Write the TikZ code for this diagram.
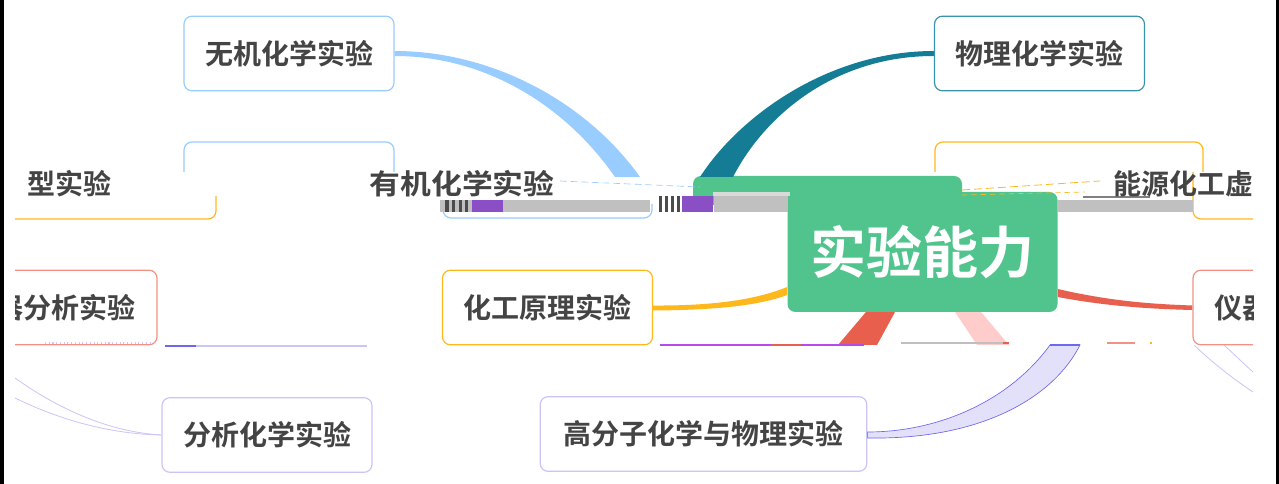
\documentclass[tikz,border=0pt]{standalone}
\usepackage{fontspec}
\newfontfamily\cjk{Noto Sans CJK SC}[BoldFont={Noto Sans CJK SC Bold}]
\usetikzlibrary{calc}
\pgfdeclarelayer{bg}
\pgfsetlayers{bg,main}
\definecolor{txt}{HTML}{444444}
\definecolor{cblue}{HTML}{99CCFF}
\definecolor{cteal}{HTML}{147D95}
\definecolor{ctealb}{HTML}{3A93AE}
\definecolor{cyel}{HTML}{FFB81C}
\definecolor{cred}{HTML}{E85F4E}
\definecolor{cpink}{HTML}{FFCCCC}
\definecolor{clav}{HTML}{C9C5F7}
\definecolor{clavf}{HTML}{E3E0FA}
\definecolor{clavline}{HTML}{6E68F0}
\definecolor{cgreen}{HTML}{50C48C}
\definecolor{cgray}{HTML}{C0C0C0}
\definecolor{cpur}{HTML}{8A4FC4}
\definecolor{cmag}{HTML}{B44CEB}
\definecolor{csal}{HTML}{F29184}
\tikzset{
  topic/.style={draw=#1, line width=0.9pt, rounded corners=6pt, fill=white,
    minimum width=157.5pt, minimum height=56pt, inner sep=0pt,
    font=\cjk\bfseries\fontsize{21}{21}\selectfont, text=txt},
  glitchtxt/.style={inner sep=0pt, font=\cjk\bfseries\fontsize{21}{21}\selectfont, text=txt},
  edgebox/.style={draw=#1, line width=0.9pt, rounded corners=6pt},
  stripe/.style={fill=black!70},
}
\begin{document}
\begin{tikzpicture}[x=0.75pt,y=-0.75pt]
\useasboundingbox (0,0) rectangle (1279,484);
\begin{pgfonlayer}{bg}
\fill[white] (0,0) rectangle (1279,484);
\fill[black] (0,0) rectangle (4,484);
\fill[black] (1276,0) rectangle (1279,484);
\end{pgfonlayer}
\begin{scope}
\clip (15,0) rectangle (1253,484);
% ---------- nodes ----------
\node[topic=cblue] (wuji) at (289,53.5) {无机化学实验};
\node[topic=ctealb] (wuli) at (1039.5,53.5) {物理化学实验};
\node[topic=cyel] (huagong) at (547.5,307.5) {化工原理实验};
\node[topic=csal] (yiqiL) at (52,307.5) {仪器分析实验};
\node[topic=csal] (yiqiR) at (1298,307.5) {仪器分析实验};
\node[topic=clav] (fenxi) at (267,435) {分析化学实验};
\node[topic=clav, minimum width=245pt] (gaofenzi) at (703.5,434) {高分子化学与物理实验};
\node[fill=cgreen, rounded corners=6pt, minimum width=202.5pt, minimum height=90pt,
  inner sep=0pt, text=white, font=\cjk\bfseries\fontsize{42}{42}\selectfont] (root) at (922.5,252) {实验能力};
% ---------- named end points ----------
\coordinate (bEnd1) at (615,177);
\coordinate (bEnd2) at (640,177);
\coordinate (tEnd1) at (700,177);
\coordinate (tEnd2) at (733,177);
\coordinate (redA) at (866,312);
\coordinate (redB) at (895,312);
\coordinate (redC) at (877,345);
\coordinate (redD) at (838,345);
\coordinate (pkA) at (955,312);
\coordinate (pkB) at (981,312);
\coordinate (pkC) at (1009,345);
\coordinate (pkD) at (977,345);
\coordinate (lvA) at (1050,345);
\coordinate (lvB) at (1080,345);
% ---------- connectors ----------
\begin{pgfonlayer}{bg}
\fill[cgreen, rounded corners=6pt] (693,205) -- (693,176) -- (962,176) -- (962,205) -- cycle;
\fill[cblue] ($(wuji.east)+(0,-2.5)$) .. controls (490,51) and (585,100) .. (bEnd2)
  -- (bEnd1) .. controls (565,105) and (485,56) .. ($(wuji.east)+(0,2.5)$) -- cycle;
\fill[cteal] ($(wuli.west)+(0,-2.5)$) .. controls (830,51) and (740,115) .. (tEnd1)
  -- (tEnd2) .. controls (765,115) and (835,56) .. ($(wuli.west)+(0,2.5)$) -- cycle;
\fill[cyel] ($(huagong.east)+(0,-2)$) .. controls (720,306) and (760,298) .. ($(root.west)+(0,35)$)
  -- ($(root.west)+(0,43)$) .. controls (760,305) and (720,310) .. ($(huagong.east)+(0,3)$) -- cycle;
\fill[cred] ($(root.east)+(0,37)$) .. controls (1110,301) and (1150,304) .. ($(yiqiR.west)+(0,-2)$)
  -- ($(yiqiR.west)+(0,2.5)$) .. controls (1150,309) and (1105,306) .. ($(root.east)+(0,45)$) -- cycle;
\fill[cred] (redA) -- (redB) -- (redC) -- (redD) -- cycle;
\fill[cpink] (pkA) -- (pkB) -- (pkC) -- (pkD) -- cycle;
\filldraw[fill=clavf, draw=clavline, line width=0.5pt] (lvA) .. controls (1010,400) and (940,432) .. ($(gaofenzi.east)+(0,-2)$)
  -- ($(gaofenzi.east)+(0,4)$) .. controls (985,440) and (1055,395) .. (lvB) -- cycle;
\draw[clavline, line width=1.6pt] (lvA) -- (lvB);
\draw[clav, line width=0.6pt] (15,378) .. controls (60,410) and (110,432) .. (fenxi.west);
\draw[clav, line width=0.6pt] (15,398) .. controls (60,420) and (110,434) .. (fenxi.west);
\draw[clav, line width=0.6pt] ($(yiqiR.south west)+(2,0)$) .. controls (1215,365) and (1235,380) .. (1253,392);
\draw[clav, line width=0.6pt] ($(yiqiR.south west)+(32,0)$) .. controls (1235,355) and (1245,365) .. (1253,372);
\end{pgfonlayer}
% ---------- torn strip ----------
\draw[edgebox=cblue] (184,172) -- (184,142) -- (394,142) -- (394,172);
\draw[edgebox=cyel] (935,172) -- (935,142) -- (1203,142) -- (1203,172);
\draw[edgebox=cyel] (10,219) -- (216,219) -- (216,196);
\draw[edgebox=cblue] (443,204) -- (443,218) -- (652,218) -- (652,204);
\draw[edgebox=cyel] (1193,172) -- (1193,219) -- (1260,219);
\fill[cgray] (440,200) rectangle (650,212);
\fill[stripe] (445,200) rectangle (449,212);
\fill[stripe] (452,200) rectangle (455,212);
\fill[stripe] (459,200) rectangle (462,212);
\fill[stripe] (465,200) rectangle (468,212);
\fill[cpur] (472,200) rectangle (503,212);
\fill[cgray!60] (713,192) rectangle (790,196);
\fill[cgray] (714,196) rectangle (788,212);
\fill[cpur] (682,196) rectangle (713,212);
\fill[stripe] (659,196) rectangle (662,212);
\fill[stripe] (665,196) rectangle (668,212);
\fill[stripe] (671,196) rectangle (674,212);
\fill[stripe] (677,196) rectangle (680,212);
\fill[cgray] (1058,200) rectangle (1193,212);
\draw[black!50, line width=0.8pt] (1083,197) -- (1150,197);
\draw[cblue, dash pattern=on 5pt off 3pt, line width=0.5pt] (560,181) -- (700,187);
\draw[cyel, dash pattern=on 6pt off 3pt, line width=0.6pt] (962,190) -- (1100,181);
\draw[cyel, dash pattern=on 4pt off 3pt, line width=0.5pt] (962,195) -- (1085,192);
\node[glitchtxt, anchor=east] (gA) at (112,184) {型实验};
\node[glitchtxt, xscale=1.1] (gB) at (462,184) {有机化学实验};
\node[glitchtxt, anchor=west] (gC) at (1113,184) {能源化工虚};
% ---------- torn lower edge ----------
\draw[clav, line width=0.8pt] (165,346) -- (367,346);
\draw[clavline, line width=0.8pt] (165,346) -- (196,346);
\draw[clav, dotted, line width=0.8pt] (45,343) -- (150,343);
\draw[cmag, line width=1pt] (660,345) -- (864,345);
\draw[cred, line width=1.5pt] (771,345) -- (801,345);
\draw[black!25, line width=1pt] (901,343) -- (1005,343);
\draw[cred, line width=1.2pt] (1003,343) -- (1009,343);
\draw[csal, line width=1.2pt] (1107,343) -- (1135,343);
\fill[cyel] (1150,342) rectangle (1152,344);
\end{scope}
\end{tikzpicture}
\end{document}
